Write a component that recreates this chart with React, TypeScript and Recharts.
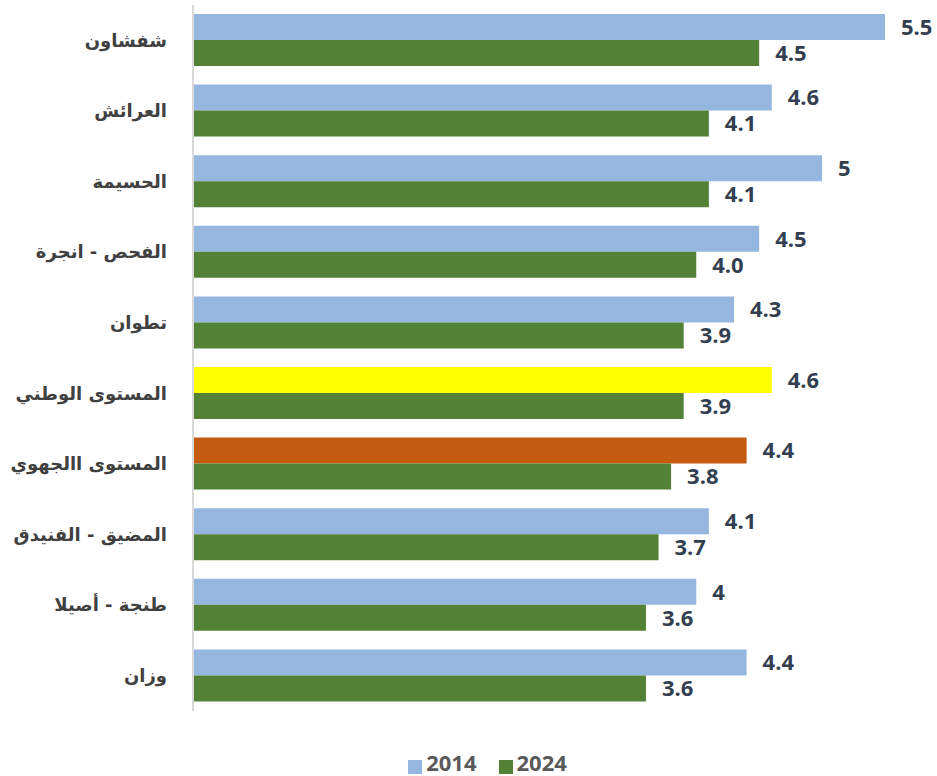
import { BarChart, Bar, XAxis, YAxis, Legend, LabelList, Cell } from "recharts";

// ─── Data ─────────────────────────────────────────────────────────────────────

const regions = [
  "شفشاون",
  "العرائش",
  "الحسيمة",
  "الفحص - انجرة",
  "تطوان",
  "المستوى الوطني",
  "المستوى االجهوي",
  "المضيق - الفنيدق",
  "طنجة - أصيلا",
  "وزان",
];

const values2014 = [5.5, 4.6, 5, 4.5, 4.3, 4.6, 4.4, 4.1, 4, 4.4];
const values2024 = [4.5, 4.1, 4.1, 4.0, 3.9, 3.9, 3.8, 3.7, 3.6, 3.6];

const labels2014 = ["5.5", "4.6", "5", "4.5", "4.3", "4.6", "4.4", "4.1", "4", "4.4"];
const labels2024 = ["4.5", "4.1", "4.1", "4.0", "3.9", "3.9", "3.8", "3.7", "3.6", "3.6"];

// highlighted rows for the 2014 series
const highlight2014: Record<number, string> = { 5: "#FFFF00", 6: "#C55A11" };

const data = regions.map((name, i) => ({
  name,
  y2014: values2014[i],
  y2024: values2024[i],
  l2014: labels2014[i],
  l2024: labels2024[i],
}));

const BLUE = "#95B7DF";
const GREEN = "#538135";
const FONT = "'DejaVu Sans', 'Liberation Sans', sans-serif";

const labelStyle = { fontSize: 22, fontWeight: 700, fill: "#333F50", fontFamily: "'Open Sans', 'DejaVu Sans', sans-serif" };

// ─── Component ────────────────────────────────────────────────────────────────

export default function App() {
  return (
    <div style={{ position: "absolute", left: 0, top: 0, background: "#fff" }}>
      <BarChart
        width={937}
        height={776}
        data={data}
        layout="vertical"
        margin={{ top: 5, right: 52, left: 8, bottom: 0 }}
        barGap={0}
      >
        <XAxis type="number" domain={[0, 5.5]} hide />
        <YAxis
          type="category"
          dataKey="name"
          width={185}
          tickLine={false}
          axisLine={{ stroke: "#D9D9D9", strokeWidth: 2 }}
          tickMargin={20}
          tick={{ fontSize: 18, fontWeight: 700, fill: "#404040", fontFamily: FONT }}
        />
        <Legend
          verticalAlign="bottom"
          iconType="square"
          iconSize={14}
          height={65}
          wrapperStyle={{ left: 60, top: 747, fontFamily: "'Open Sans', 'DejaVu Sans', sans-serif" }}
          formatter={(value: string) => (
            <span style={{ color: "#595959", fontSize: 22, fontWeight: 700, marginRight: 12 }}>{value}</span>
          )}
        />
        <Bar dataKey="y2014" name="2014" fill={BLUE} barSize={26} isAnimationActive={false}>
          {data.map((_, i) => (
            <Cell key={i} fill={highlight2014[i] ?? BLUE} />
          ))}
          <LabelList dataKey="l2014" position="right" offset={16} style={labelStyle} />
        </Bar>
        <Bar dataKey="y2024" name="2024" fill={GREEN} barSize={26} isAnimationActive={false}>
          <LabelList dataKey="l2024" position="right" offset={16} style={labelStyle} />
        </Bar>
      </BarChart>
    </div>
  );
}
